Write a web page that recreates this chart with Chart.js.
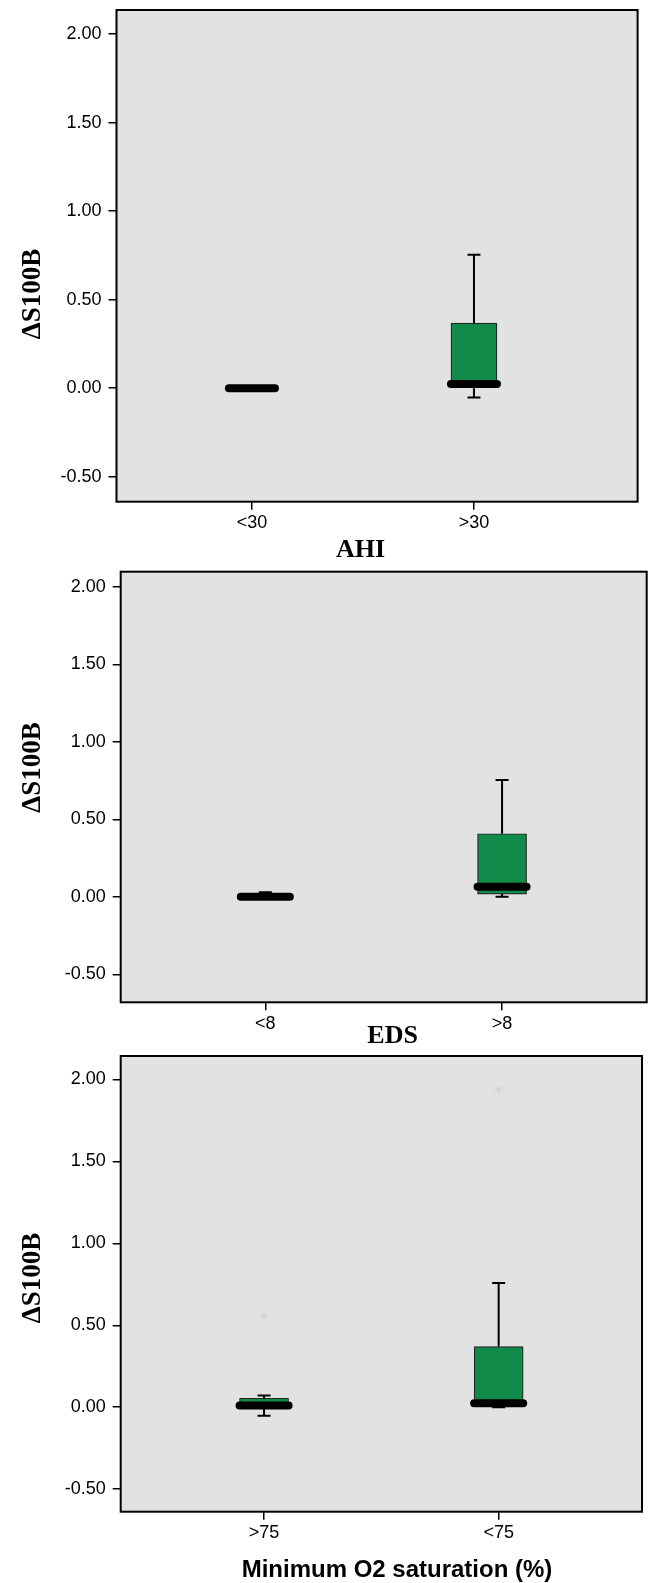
<!DOCTYPE html>
<html>
<head>
<meta charset="utf-8">
<script src="https://cdn.jsdelivr.net/npm/chart.js@4.4.0/dist/chart.umd.min.js"></script>
<style>
  body { margin: 0; background: #fff; }
  canvas { position: absolute; left: 0; }
</style>
</head>
<body>
<canvas id="ahiChart" width="648" height="562" style="top:0px"></canvas>
<canvas id="edsChart" width="648" height="484" style="top:562px"></canvas>
<canvas id="satChart" width="648" height="537" style="top:1046px"></canvas>
<script>
// groups on the x axis
const ahiGroups = ['<30', '>30'];
const edsGroups = ['<8', '>8'];
const satGroups = ['>75', '<75'];
const groupPos = [1, 2];

const yTicks = [-0.5, 0, 0.5, 1, 1.5, 2];

// box plot stats: lower whisker, Q1, median, Q3, upper whisker
const ahiLow = [0, -0.052];
const ahiQ1 = [0, 0.0];
const ahiMedian = [0, 0.024];
const ahiQ3 = [0, 0.368];
const ahiHigh = [0, 0.754];

const edsLow = [0, 0];
const edsQ1 = [0, 0.018];
const edsMedian = [0, 0.065];
const edsQ3 = [0, 0.407];
const edsHigh = [0.03, 0.753];

const satLow = [-0.052, 0];
const satQ1 = [0, 0.004];
const satMedian = [0.01, 0.024];
const satQ3 = [0.055, 0.37];
const satHigh = [0.071, 0.758];

// faint outlier stars
const satOutlierPos = [1, 2];
const satOutliers = [0.56, 1.935];

const tickFont = { family: 'Liberation Sans', size: 18 };

function makeBoxPlot(id, cfg) {
  const boxes = groupPos.map((p, i) => ({ x: p, y: [cfg.q1[i], cfg.q3[i]] }));
  const datasets = [{
    type: 'bar',
    data: boxes,
    backgroundColor: '#118b4a',
    borderColor: '#222',
    borderWidth: 1.2,
    borderSkipped: false,
    barThickness: cfg.boxWidth
  }];
  if (cfg.outliers) {
    datasets.push({
      type: 'line',
      data: cfg.outlierPos.map((p, i) => ({ x: p, y: cfg.outliers[i] })),
      showLine: false,
      pointStyle: 'star',
      pointRadius: 5,
      borderWidth: 1,
      borderColor: '#d2d2d6'
    });
  }

  const extras = {
    id: 'boxExtras',
    beforeDraw(chart) {
      const { ctx, chartArea: a } = chart;
      ctx.save();
      ctx.fillStyle = '#e2e2e2';
      ctx.fillRect(a.left, a.top, a.width, a.height);
      ctx.restore();
    },
    afterDatasetsDraw(chart) {
      const { ctx, scales: { x, y } } = chart;
      const meta = chart.getDatasetMeta(0);
      ctx.save();
      ctx.strokeStyle = '#000';
      groupPos.forEach((p, i) => {
        const px = x.getPixelForValue(p);
        const half = meta.data[i].width / 2;
        ctx.lineWidth = 2;
        ctx.lineCap = 'butt';
        [[cfg.q3[i], cfg.high[i]], [cfg.q1[i], cfg.low[i]]].forEach(([from, to]) => {
          if (from === to) return;
          const ty = y.getPixelForValue(to);
          ctx.beginPath();
          ctx.moveTo(px, y.getPixelForValue(from));
          ctx.lineTo(px, ty);
          ctx.moveTo(px - 6.5, ty);
          ctx.lineTo(px + 6.5, ty);
          ctx.stroke();
        });
        // thick median bar
        const my = y.getPixelForValue(cfg.median[i]);
        ctx.lineWidth = 8;
        ctx.lineCap = 'round';
        ctx.beginPath();
        ctx.moveTo(px - half, my);
        ctx.lineTo(px + half, my);
        ctx.stroke();
      });
      ctx.restore();
    },
    afterDraw(chart) {
      const { ctx, chartArea: a } = chart;
      ctx.save();
      ctx.strokeStyle = '#000';
      ctx.lineWidth = 2;
      ctx.strokeRect(a.left, a.top, a.width, a.height);

      ctx.fillStyle = '#000';
      ctx.textAlign = 'center';
      ctx.textBaseline = 'alphabetic';
      ctx.font = 'bold 27px "Liberation Serif"';
      ctx.translate(40, cfg.yTitleY);
      ctx.rotate(-Math.PI / 2);
      ctx.fillText('\u0394S100B', 0, 0);
      ctx.setTransform(1, 0, 0, 1, 0, 0);

      ctx.font = cfg.xTitleFont;
      ctx.fillText(cfg.xTitle, cfg.xTitleX, cfg.xTitleY);
      ctx.restore();
    }
  };

  return new Chart(document.getElementById(id), {
    data: { datasets },
    options: {
      responsive: false,
      animation: false,
      layout: { padding: { top: cfg.padTop, right: cfg.padRight, left: 0, bottom: 0 } },
      plugins: { legend: { display: false }, tooltip: { enabled: false } },
      scales: {
        x: {
          type: 'linear',
          offset: false,
          min: cfg.xMin,
          max: cfg.xMax,
          afterBuildTicks: s => { s.ticks = groupPos.map(v => ({ value: v })); },
          afterFit: s => {
            s.height = cfg.xAxisHeight;
            s.paddingLeft = 0;
            s.paddingRight = 0;
          },
          ticks: {
            callback: (v, i) => cfg.groups[i],
            font: tickFont,
            color: '#000',
            padding: 3,
            maxRotation: 0,
            autoSkip: false
          },
          grid: { offset: false, drawOnChartArea: false, tickLength: 8, color: '#000', lineWidth: 1.5 },
          border: { display: false }
        },
        y: {
          min: cfg.yMin,
          max: cfg.yMax,
          afterBuildTicks: s => { s.ticks = yTicks.map(v => ({ value: v })); },
          afterFit: s => {
            s.width = cfg.yAxisWidth;
            s.paddingTop = 0;
            s.paddingBottom = 0;
          },
          ticks: {
            callback: v => v.toFixed(2),
            font: tickFont,
            color: '#000',
            padding: 7
          },
          grid: { drawOnChartArea: false, tickLength: 8, color: '#000', lineWidth: 1.5 },
          border: { display: false }
        }
      }
    },
    plugins: [extras]
  });
}

makeBoxPlot('ahiChart', {
  groups: ahiGroups,
  low: ahiLow, q1: ahiQ1, median: ahiMedian, q3: ahiQ3, high: ahiHigh,
  boxWidth: 46,
  yMin: -0.641, yMax: 2.137, xMin: 0.39, xMax: 2.737,
  padTop: 10, padRight: 10.4, yAxisWidth: 116.5, xAxisHeight: 60.3,
  yTitleY: 294,
  xTitle: 'AHI', xTitleX: 360.5, xTitleY: 557, xTitleFont: 'bold 26px "Liberation Serif"'
});

makeBoxPlot('edsChart', {
  groups: edsGroups,
  low: edsLow, q1: edsQ1, median: edsMedian, q3: edsQ3, high: edsHigh,
  boxWidth: 49,
  yMin: -0.68, yMax: 2.097, xMin: 0.389, xMax: 2.611,
  padTop: 9.7, padRight: 1.3, yAxisWidth: 120.7, xAxisHeight: 43.7,
  yTitleY: 205.5,
  xTitle: 'EDS', xTitleX: 392.6, xTitleY: 481, xTitleFont: 'bold 26px "Liberation Serif"'
});

makeBoxPlot('satChart', {
  groups: satGroups,
  low: satLow, q1: satQ1, median: satMedian, q3: satQ3, high: satHigh,
  outlierPos: satOutlierPos, outliers: satOutliers,
  boxWidth: 49,
  yMin: -0.637, yMax: 2.142, xMin: 0.389, xMax: 2.611,
  padTop: 10, padRight: 1.3, yAxisWidth: 120.7, xAxisHeight: 71.3,
  yTitleY: 232,
  xTitle: 'Minimum O2 saturation (%)', xTitleX: 397, xTitleY: 531, xTitleFont: 'bold 24px "Liberation Sans"'
});
</script>
</body>
</html>
